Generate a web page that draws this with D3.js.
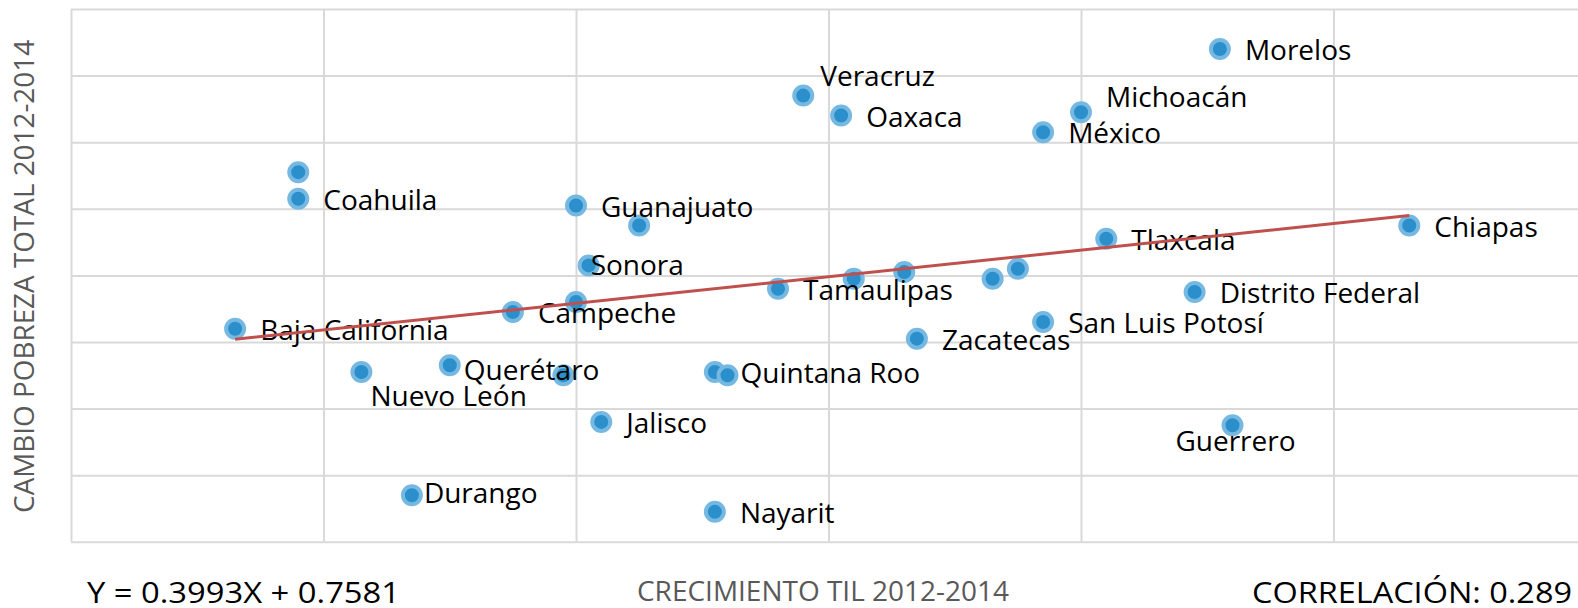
<!DOCTYPE html>
<html>
<head>
<meta charset="utf-8">
<script src="https://cdn.jsdelivr.net/npm/d3@7"></script>
<style>
  body { margin: 0; background: #fff; }
  svg { display: block; }
  .grid line { stroke: #d9d9d9; stroke-width: 2; }
  .grid path { display: none; }
  .lbl { font-family: "Open Sans", sans-serif; font-size: 28px; fill: #000; }
</style>
</head>
<body>
<svg width="1578" height="608"></svg>
<script>
// estados (empty name = point without data label)
const states = ['Morelos', 'Veracruz', 'Oaxaca', 'Michoacán', 'México', 'Coahuila', '', 'Guanajuato', '',
  'Chiapas', 'Tlaxcala', 'Sonora', 'Tamaulipas', '', '', '', '', 'Distrito Federal', 'Campeche', '',
  'San Luis Potosí', 'Baja California', 'Zacatecas', 'Querétaro', 'Nuevo León', '', '', 'Quintana Roo',
  'Jalisco', 'Guerrero', 'Durango', 'Nayarit'];
// crecimiento 2012-2014 (x)
const growth = [1.1, -2.2, -1.9, 0.0, -0.3, -6.2, -6.2, -4.0, -3.5,
  2.6, 0.2, -3.9, -2.4, -1.8, -1.4, -0.7, -0.5, 0.9, -4.5, -4.0,
  -0.3, -6.7, -1.3, -5.0, -5.7, -4.1, -2.9, -2.8,
  -3.8, 1.2, -5.3, -2.9];
// cambio pobreza total 2012-2014 (y)
const povertyChange = [6.8, 5.4, 4.8, 4.9, 4.3, 2.3, 3.1, 2.1, 1.5,
  1.5, 1.1, 0.3, -0.4, -0.1, 0.1, -0.1, 0.2, -0.5, -1.1, -0.8,
  -1.4, -1.6, -1.9, -2.7, -2.9, -3.0, -2.9, -3.0,
  -4.4, -4.5, -6.6, -7.1];
const xTicks = [-8, -6, -4, -2, 0, 2, 4];
const yTicks = [-8, -6, -4, -2, 0, 2, 4, 6, 8];
const slope = 0.3993, intercept = 0.7581, correlation = 0.289;

// manual label placement (offset of text start / cap middle from the point)
const labelNudge = {
  'Veracruz': [17, -20], 'Michoacán': [25, -15], 'Sonora': [2, 0],
  'Nuevo León': [9, 24], 'Querétaro': [14, 5], 'Quintana Roo': [13, -2],
  'Durango': [12, -2], 'Guerrero': [3, 16, 'middle']
};

const plotL = 71, plotT = 9, plotB = 541.8, plotR = 1586;

const x = d3.scaleLinear().domain([-8, 4]).range([plotL, plotR]);
const y = d3.scaleLinear().domain([-8, 8]).range([plotB, plotT]);

const svg = d3.select('svg');
const pts = states.map((s, i) => ({name: s, gx: growth[i], py: povertyChange[i]}));

// grid
svg.append('g').classed('grid', true)
  .attr('transform', `translate(0,${plotB})`)
  .call(d3.axisBottom(x).tickValues(xTicks).tickSize(-(plotB - plotT)).tickFormat(''));
svg.append('g').classed('grid', true)
  .attr('transform', `translate(${plotL},0)`)
  .call(d3.axisLeft(y).tickValues(yTicks).tickSize(-(plotR - plotL)).tickFormat(''));

// markers
svg.append('g').selectAll('circle')
  .data(pts)
  .enter()
  .append('circle')
  .attr('cx', d => x(d.gx))
  .attr('cy', d => y(d.py))
  .attr('r', 9)
  .attr('fill', '#2a8fcb')
  .attr('stroke', '#75b8e2')
  .attr('stroke-width', 4);

// data labels
svg.append('g').selectAll('text')
  .data(pts.filter(d => d.name !== ''))
  .enter()
  .append('text')
  .classed('lbl', true)
  .attr('x', d => x(d.gx) + (labelNudge[d.name] ? labelNudge[d.name][0] : 25))
  .attr('y', d => y(d.py) + (labelNudge[d.name] ? labelNudge[d.name][1] : 1))
  .attr('dy', '0.36em')
  .attr('text-anchor', d => (labelNudge[d.name] && labelNudge[d.name][2]) || 'start')
  .text(d => d.name);

// trend line
const xmin = d3.min(growth), xmax = d3.max(growth);
svg.append('line')
  .attr('x1', x(xmin)).attr('y1', y(slope * xmin + intercept))
  .attr('x2', x(xmax)).attr('y2', y(slope * xmax + intercept))
  .attr('stroke', '#c0504d')
  .attr('stroke-width', 3);

// titles
svg.append('text')
  .attr('transform', `translate(34,${(plotT + plotB) / 2 + 1}) rotate(-90)`)
  .attr('text-anchor', 'middle')
  .attr('textLength', 473).attr('lengthAdjust', 'spacingAndGlyphs')
  .style('font-family', '"Open Sans", sans-serif').style('font-size', '27px').style('fill', '#595959')
  .text('CAMBIO POBREZA TOTAL 2012-2014');

svg.append('text')
  .attr('x', 823).attr('y', 601)
  .attr('text-anchor', 'middle')
  .attr('textLength', 372).attr('lengthAdjust', 'spacingAndGlyphs')
  .style('font-family', '"Open Sans", sans-serif').style('font-size', '27px').style('fill', '#595959')
  .text('CRECIMIENTO TIL 2012-2014');

svg.append('text')
  .attr('x', 87).attr('y', 603)
  .attr('textLength', 313).attr('lengthAdjust', 'spacingAndGlyphs')
  .style('font-family', '"Open Sans", sans-serif').style('font-size', '29.5px').style('fill', '#000')
  .text(`Y = ${slope}X + ${intercept}`);

svg.append('text')
  .attr('x', 1572).attr('y', 603)
  .attr('text-anchor', 'end')
  .attr('textLength', 320).attr('lengthAdjust', 'spacingAndGlyphs')
  .style('font-family', '"Open Sans", sans-serif').style('font-size', '29.5px').style('fill', '#000')
  .text(`CORRELACIÓN: ${correlation}`);
</script>
</body>
</html>
